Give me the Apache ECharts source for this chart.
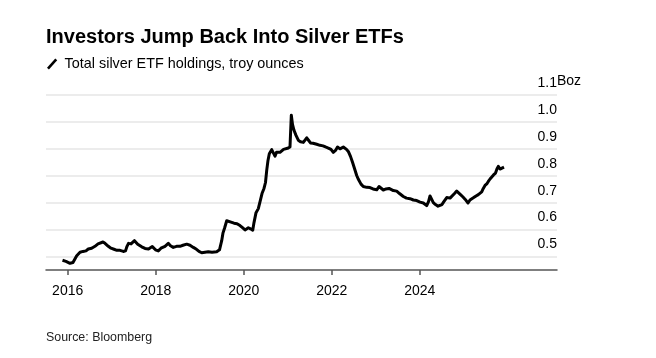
<!DOCTYPE html>
<html>
<head>
<meta charset="utf-8">
<script src="https://cdn.jsdelivr.net/npm/echarts@6/dist/echarts.min.js"></script>
<style>
html,body{margin:0;padding:0;background:#fff;}
#chart{width:656px;height:358px;}
</style>
</head>
<body>
<div id="chart"></div>
<script>
// Fractional year of each observation
var years = [2015.882,2015.961,2016.052,2016.120,2016.205,2016.280,2016.348,2016.416,2016.468,2016.545,
2016.620,2016.689,2016.734,2016.802,2016.848,2016.923,2016.984,2017.052,2017.120,2017.189,
2017.264,2017.314,2017.348,2017.382,2017.439,2017.518,2017.591,2017.682,2017.757,2017.836,
2017.923,2017.995,2018.059,2018.120,2018.211,2018.286,2018.336,2018.400,2018.473,2018.552,
2018.620,2018.705,2018.780,2018.855,2018.927,2018.984,2019.045,2019.120,2019.195,2019.280,
2019.386,2019.450,2019.500,2019.530,2019.564,2019.614,2019.655,2019.711,2019.780,2019.848,
2019.916,2019.973,2020.030,2020.105,2020.155,2020.205,2020.234,2020.280,2020.332,2020.377,
2020.416,2020.461,2020.495,2020.523,2020.552,2020.582,2020.636,2020.677,2020.711,2020.745,
2020.786,2020.825,2020.864,2020.905,2020.939,2020.995,2021.052,2021.082,2021.109,2021.143,
2021.189,2021.241,2021.291,2021.355,2021.432,2021.473,2021.518,2021.575,2021.659,2021.734,
2021.802,2021.859,2021.923,2021.984,2022.036,2022.086,2022.132,2022.189,2022.264,2022.336,
2022.382,2022.427,2022.473,2022.518,2022.568,2022.609,2022.666,2022.718,2022.795,2022.870,
2022.939,2023.023,2023.075,2023.120,2023.173,2023.234,2023.302,2023.400,2023.477,2023.541,
2023.627,2023.700,2023.780,2023.855,2023.932,2024.007,2024.082,2024.159,2024.200,2024.234,
2024.273,2024.309,2024.359,2024.416,2024.461,2024.507,2024.541,2024.614,2024.689,2024.734,
2024.791,2024.841,2024.882,2024.927,2024.984,2025.030,2025.098,2025.143,2025.218,2025.280,
2025.332,2025.409,2025.445,2025.484,2025.530,2025.559,2025.598,2025.636,2025.677,2025.723,
2025.755,2025.786,2025.825,2025.848,2025.870,2025.916];
// Total silver ETF holdings, billion troy ounces
var holdings = [0.486,0.482,0.475,0.478,0.503,0.516,0.519,0.521,0.528,0.531,
0.538,0.547,0.552,0.554,0.549,0.538,0.531,0.527,0.523,0.523,
0.519,0.521,0.538,0.549,0.547,0.559,0.546,0.536,0.530,0.528,
0.537,0.525,0.521,0.531,0.538,0.549,0.540,0.534,0.538,0.538,
0.542,0.546,0.542,0.534,0.527,0.519,0.514,0.516,0.518,0.516,
0.518,0.525,0.559,0.588,0.605,0.633,0.639,0.628,0.624,0.622,
0.615,0.607,0.599,0.607,0.603,0.598,0.626,0.663,0.678,0.708,
0.734,0.753,0.775,0.820,0.857,0.882,0.897,0.891,0.873,0.887,
0.894,0.887,0.889,0.898,0.894,0.902,0.907,1.025,0.991,0.969,
0.950,0.932,0.926,0.924,0.941,0.932,0.922,0.921,0.917,0.913,
0.911,0.907,0.903,0.898,0.887,0.894,0.907,0.900,0.907,0.898,
0.889,0.872,0.850,0.827,0.801,0.786,0.769,0.760,0.757,0.756,
0.751,0.748,0.760,0.766,0.747,0.751,0.753,0.745,0.743,0.734,
0.723,0.717,0.715,0.710,0.708,0.702,0.699,0.689,0.704,0.725,
0.719,0.700,0.693,0.687,0.685,0.693,0.702,0.719,0.717,0.719,
0.734,0.743,0.740,0.730,0.721,0.713,0.699,0.710,0.718,0.725,
0.730,0.740,0.753,0.764,0.771,0.779,0.788,0.795,0.803,0.810,
0.825,0.835,0.825,0.820,0.827,0.832];
var xTicks = [2016, 2018, 2020, 2022, 2024];
var yTicks = [0.5, 0.6, 0.7, 0.8, 0.9, 1.0, 1.1];
var seriesName = 'Total silver ETF holdings, troy ounces';

var data = years.map(function (y, i) { return [y, holdings[i]]; });
var font = '"Liberation Sans", Arial, sans-serif';

var chart = echarts.init(document.getElementById('chart'), null, {renderer: 'canvas'});
chart.setOption({
  animation: false,
  backgroundColor: '#fff',
  title: {
    text: 'Investors Jump Back Into Silver ETFs',
    left: 41, top: 22,
    textStyle: {fontFamily: font, fontSize: 20, fontWeight: 'bold', color: '#000'}
  },
  legend: {
    left: 42, top: 52,
    itemWidth: 11, itemHeight: 11, itemGap: 8,
    icon: 'path://M0,9.5 L8.5,0 L10.5,1.8 L2,11.3 Z',
    textStyle: {fontFamily: font, fontSize: 14.4, color: '#000', padding: [0, 0, 0, 2]},
    data: [{name: seriesName, itemStyle: {color: '#000'}}]
  },
  graphic: [{
    type: 'text', left: 557, top: 74,
    style: {text: 'Boz', font: '14px ' + font, fill: '#000'}
  }, {
    type: 'text', left: 46, top: 332,
    style: {text: 'Source: Bloomberg', font: '12.4px ' + font, fill: '#222'}
  }],
  grid: {left: 46, right: 99, top: 95, bottom: 88, containLabel: false},
  xAxis: {
    type: 'value', min: 2015.507, max: 2027.12,
    axisLine: {show: true, lineStyle: {color: '#555', width: 1.5}},
    axisTick: {show: true, length: 5, customValues: xTicks, lineStyle: {color: '#555', width: 1.5}},
    axisLabel: {customValues: xTicks, margin: 14, formatter: function (v) { return String(Math.round(v)); },
      fontFamily: font, fontSize: 14, color: '#000'},
    splitLine: {show: false}
  },
  yAxis: {
    type: 'value', position: 'right', min: 0.45, max: 1.1,
    axisLine: {show: false},
    axisTick: {show: false, customValues: yTicks},
    axisLabel: {customValues: yTicks, inside: true, margin: 0, verticalAlign: 'bottom',
      padding: [0, 0, 5, 0],
      formatter: function (v) { return v.toFixed(1); },
      fontFamily: font, fontSize: 14, color: '#000'},
    splitLine: {show: true, lineStyle: {color: '#e6e6e6', width: 1.5}}
  },
  series: [{
    name: seriesName, type: 'line', data: data,
    showSymbol: false, symbol: 'none',
    lineStyle: {color: '#000', width: 3, join: 'round'},
    itemStyle: {color: '#000'}
  }]
});
</script>
</body>
</html>
